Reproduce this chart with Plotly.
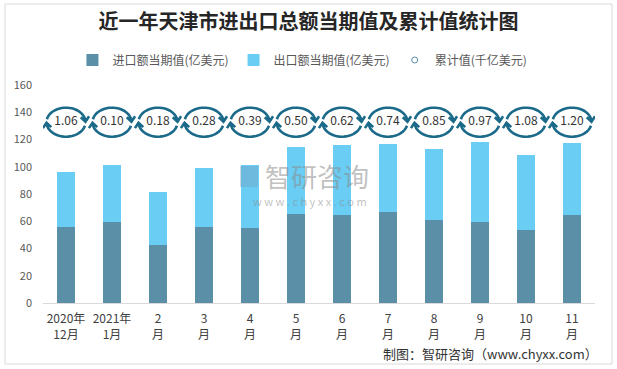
import math
import plotly.graph_objects as go

# ---------------- data ----------------
tick_labels = ["2020年<br>12月", "2021年<br>1月", "2<br>月", "3<br>月", "4<br>月", "5<br>月",
               "6<br>月", "7<br>月", "8<br>月", "9<br>月", "10<br>月", "11<br>月"]
import_values = [56.0, 59.7, 42.8, 56.0, 55.3, 65.5, 64.8, 67.0, 61.2, 59.7, 53.8, 64.8]
export_values = [40.4, 41.8, 38.9, 43.3, 45.7, 49.2, 51.3, 49.8, 52.0, 58.7, 55.0, 52.8]
cumulative_values = [1.06, 0.10, 0.18, 0.28, 0.39, 0.50, 0.62, 0.74, 0.85, 0.97, 1.08, 1.20]

# ---------------- style ----------------
W, H = 617, 369
ML, MR, MT, MB = 43, 22, 85, 66
FONT = "Noto Sans CJK SC, Noto Sans, sans-serif"
DARK = "#5b8fa7"
LIGHT = "#69cdf4"
RING = "#1b6a8a"
BUBBLE_Y = 132.7

x = list(range(len(tick_labels)))
labels = [f"{v:.2f}" for v in cumulative_values]

fig = go.Figure()
fig.add_trace(go.Bar(x=x, y=import_values, name="进口额当期值(亿美元)",
                     marker=dict(color=DARK, line=dict(width=0)), width=0.41))
fig.add_trace(go.Bar(x=x, y=export_values, name="出口额当期值(亿美元)",
                     marker=dict(color=LIGHT, line=dict(width=0)), width=0.41))
fig.add_trace(go.Scatter(x=x, y=[BUBBLE_Y] * len(x), mode="text", text=labels,
                         textfont=dict(size=12, color="#333333", family=FONT),
                         showlegend=False, hoverinfo="skip"))
fig.add_trace(go.Scatter(x=[None], y=[None], mode="markers", name="累计值(千亿美元)",
                         marker=dict(symbol="circle-open", size=6,
                                     color="#5b8fa7", line=dict(width=1))))

# circular-arrow ring drawn around each cumulative label (pixel-sized glyph)
def ring_path(rx=19.5, ry=14.5):
    def pt(t):
        return rx * math.cos(math.radians(t)), ry * math.sin(math.radians(t))

    def arc(t0, t1, n=28):
        pts = [pt(t0 + (t1 - t0) * i / n) for i in range(n + 1)]
        s = "M%.2f,%.2f" % pts[0]
        for p in pts[1:]:
            s += " L%.2f,%.2f" % p
        return s, pts[-1], pts[-2]

    def head(tip, prev, L=6.5, ang=40):
        dx, dy = prev[0] - tip[0], prev[1] - tip[1]
        d = math.hypot(dx, dy)
        dx, dy = dx / d, dy / d
        pts = []
        for s in (1, -1):
            a = math.radians(ang * s)
            wx = dx * math.cos(a) - dy * math.sin(a)
            wy = dx * math.sin(a) + dy * math.cos(a)
            pts.append((tip[0] + wx * L, tip[1] + wy * L))
        return " M%.2f,%.2f L%.2f,%.2f L%.2f,%.2f" % (pts[0][0], pts[0][1], tip[0], tip[1],
                                                    pts[1][0], pts[1][1])

    a1, tip1, prev1 = arc(168, 2)
    a2, tip2, prev2 = arc(-14, -178)
    return a1 + head(tip1, prev1) + " " + a2 + head(tip2, prev2)

path = ring_path()
shapes = []
for xi in x:
    shapes.append(dict(type="path", xref="x", yref="y", xsizemode="pixel", ysizemode="pixel",
                       xanchor=xi, yanchor=BUBBLE_Y, path=path,
                       line=dict(color=RING, width=2.6), layer="above"))

# outer border of the picture
pw, ph = W - ML - MR, H - MT - MB
def px(X):
    return (X - ML) / pw
def py(Y):
    return (H - MB - Y) / ph

shapes.append(dict(type="rect", xref="paper", yref="paper",
                   x0=px(5), x1=px(612), y0=py(364), y1=py(4),
                   line=dict(color="#d9d9d9", width=1), fillcolor="rgba(0,0,0,0)", layer="below"))
# watermark logo block
shapes.append(dict(type="rect", xref="paper", yref="paper",
                   x0=px(240), x1=px(258), y0=py(187), y1=py(166),
                   line=dict(width=0), fillcolor="rgba(120,150,180,0.35)", layer="above"))

annotations = [
    dict(text="制图：智研咨询（www.chyxx.com）", xref="paper", yref="paper",
         x=px(600), y=py(353), xanchor="right", yanchor="middle",
         showarrow=False, font=dict(size=13, color="#333333", family=FONT)),
    dict(text="智研咨询", xref="paper", yref="paper",
         x=px(263), y=py(175), xanchor="left", yanchor="middle",
         showarrow=False, font=dict(size=26, color="rgba(140,140,140,0.55)", family=FONT)),
    dict(text="w w w . c h y x x . c o m", xref="paper", yref="paper",
         x=px(310), y=py(201), xanchor="center", yanchor="middle",
         showarrow=False, font=dict(size=11, color="rgba(140,140,140,0.55)", family=FONT)),
]

fig.update_layout(
    width=W, height=H,
    margin=dict(l=ML, r=MR, t=MT, b=MB),
    paper_bgcolor="white", plot_bgcolor="white",
    barmode="stack",
    font=dict(family=FONT, color="#404040"),
    title=dict(text="<b>近一年天津市进出口总额当期值及累计值统计图</b>",
               x=0.5, xanchor="center", y=1 - 22 / H, yanchor="middle",
               font=dict(size=20, color="#262626", family=FONT)),
    legend=dict(orientation="h", traceorder="normal", x=0.47, xanchor="center",
                y=py(60), yanchor="middle",
                font=dict(size=12, color="#595959", family=FONT), itemwidth=30,
                bgcolor="rgba(0,0,0,0)"),
    xaxis=dict(tickmode="array", tickvals=x, ticktext=tick_labels, range=[-0.5, len(x) - 0.5],
               showgrid=False, zeroline=False, showline=True, linecolor="#d9d9d9", linewidth=1,
               ticks="", ticklabelstandoff=5, tickfont=dict(size=12, color="#404040", family=FONT)),
    yaxis=dict(range=[0, 160], tickmode="linear", dtick=20, showgrid=False, zeroline=False,
               showline=False, ticks="", ticklabelstandoff=10,
               tickfont=dict(size=11, color="#595959", family=FONT)),
    shapes=shapes,
    annotations=annotations,
)

fig.write_html("out.html", config={"displayModeBar": False},
               post_script="document.body.style.margin='0';")
